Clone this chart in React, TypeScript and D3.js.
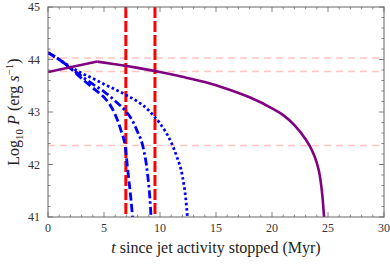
import React from 'react';
import * as d3 from 'd3';

// t (Myr) and log10 P values
const purpleRise: [number, number][] = [[0, 43.76], [4.4, 43.96]];
const purpleDecay: [number, number][] = [
  [4.4, 43.96], [6, 43.91], [8, 43.84], [10, 43.76], [12, 43.67], [14, 43.57],
  [16, 43.44], [18, 43.28], [20, 43.07], [21, 42.94], [22, 42.75], [23, 42.48],
  [23.5, 42.3], [24, 42.03], [24.3, 41.75], [24.5, 41.4], [24.65, 41.0],
];
const blueDashed: [number, number][] = [
  [0, 44.13], [1, 44.0], [2, 43.83], [3, 43.64], [4, 43.46], [5, 43.28],
  [5.5, 43.15], [6, 42.95], [6.5, 42.66], [6.9, 42.33], [7.15, 41.84],
  [7.4, 41.35], [7.55, 41.0],
];
const blueDashDot: [number, number][] = [
  [0, 44.13], [1, 44.0], [2, 43.84], [3, 43.68], [4, 43.53], [5, 43.39],
  [6, 43.21], [7, 43.0], [7.5, 42.85], [8, 42.62], [8.5, 42.32], [8.9, 41.8],
  [9.1, 41.35], [9.2, 41.0],
];
const blueDotted: [number, number][] = [
  [0, 44.13], [1, 44.0], [2, 43.86], [3, 43.74], [4, 43.64], [5, 43.53],
  [6, 43.43], [7, 43.32], [8, 43.2], [9, 43.03], [9.55, 42.9], [10, 42.78],
  [11, 42.42], [11.5, 42.15], [12, 41.78], [12.3, 41.35], [12.45, 41.0],
];
const redVerticals = [6.95, 9.55];
const pinkLevels = [44.03, 43.77, 42.36];
const xTicks = [0, 5, 10, 15, 20, 25, 30];
const yTicks = [41, 42, 43, 44, 45];

const W = 390, H = 264;
const m = { left: 48, right: 6, top: 7, bottom: 47 };
const serif = '"Liberation Serif", "Times New Roman", "DejaVu Serif", serif';

const App = () => {
  const x = d3.scaleLinear().domain([0, 30]).range([m.left, W - m.right]);
  const y = d3.scaleLinear().domain([41, 45]).range([H - m.bottom, m.top]);
  const line = d3.line<[number, number]>()
    .x(d => x(d[0]))
    .y(d => y(d[1]))
    .curve(d3.curveMonotoneX);

  const [x0, x1] = x.range();
  const [y0, y1] = y.range(); // y0 bottom, y1 top
  const axisCol = '#666';
  const xMinor = d3.range(0, 31, 1);
  const yMinor = d3.range(41, 45.01, 0.2);
  const txt = { fontFamily: serif };

  return (
    <svg width={W} height={H} style={{ position: 'absolute', left: 0, top: 0 }}>
      <defs>
        <clipPath id="plot">
          <rect x={x0} y={y1} width={x1 - x0} height={y0 - y1} />
        </clipPath>
      </defs>
      <rect width={W} height={H} fill="#fff" />

      <g clipPath="url(#plot)">
        {pinkLevels.map(v => (
          <line key={v} x1={x0} x2={x1} y1={y(v)} y2={y(v)}
            stroke="#ffc4c4" strokeWidth={1.5} strokeDasharray="7,5" />
        ))}
        {redVerticals.map(v => (
          <line key={v} x1={x(v)} x2={x(v)} y1={y1} y2={y0}
            stroke="#ff0000" strokeWidth={3} strokeDasharray="11,3" />
        ))}
        <path d={line(blueDotted) ?? ''} fill="none" stroke="#0000ff" strokeWidth={2.8} strokeDasharray="2.6,2.6" />
        <path d={line(blueDashDot) ?? ''} fill="none" stroke="#0000ff" strokeWidth={2.8} strokeDasharray="8,3,2.5,3" />
        <path d={line(blueDashed) ?? ''} fill="none" stroke="#0000ff" strokeWidth={2.8} strokeDasharray="8,3.5" />
        <path d={line(purpleRise) ?? ''} fill="none" stroke="#800080" strokeWidth={2.6} />
        <path d={line(purpleDecay) ?? ''} fill="none" stroke="#800080" strokeWidth={2.6} />
      </g>

      {/* frame */}
      <rect x={x0} y={y1} width={x1 - x0} height={y0 - y1} fill="none" stroke={axisCol} strokeWidth={1} />
      {xMinor.map(t => {
        const len = t % 5 === 0 ? 5 : 2.5;
        return (
          <g key={'xt' + t} stroke={axisCol} strokeWidth={0.8}>
            <line x1={x(t)} x2={x(t)} y1={y0} y2={y0 - len} />
            <line x1={x(t)} x2={x(t)} y1={y1} y2={y1 + len} />
          </g>
        );
      })}
      {yMinor.map((v, i) => {
        const len = i % 5 === 0 ? 5 : 2.5;
        return (
          <g key={'yt' + i} stroke={axisCol} strokeWidth={0.8}>
            <line x1={x0} x2={x0 + len} y1={y(v)} y2={y(v)} />
            <line x1={x1} x2={x1 - len} y1={y(v)} y2={y(v)} />
          </g>
        );
      })}

      {xTicks.map(t => (
        <text key={'xl' + t} style={txt} x={x(t)} y={y0 + 15} fontSize={12} textAnchor="middle" fill="#333">{t}</text>
      ))}
      {yTicks.map(v => (
        <text key={'yl' + v} style={txt} x={x0 - 8} y={y(v) + 4} fontSize={12} textAnchor="end" fill="#333">{v}</text>
      ))}

      <text style={txt} x={(x0 + x1) / 2} y={253} fontSize={16} textAnchor="middle" fill="#222">
        <tspan fontStyle="italic">t</tspan> since jet activity stopped (Myr)
      </text>
      <text style={txt} transform={`translate(19,${(y0 + y1) / 2}) rotate(-90)`} fontSize={16} textAnchor="middle" fill="#222">
        Log<tspan fontSize={11} dy={4}>10</tspan>
        <tspan dy={-4}> </tspan><tspan fontStyle="italic">P</tspan> (erg <tspan fontStyle="italic">s</tspan>
        <tspan fontSize={11} dy={-6}>−1</tspan><tspan dy={6}>)</tspan>
      </text>
    </svg>
  );
};

export default App;
